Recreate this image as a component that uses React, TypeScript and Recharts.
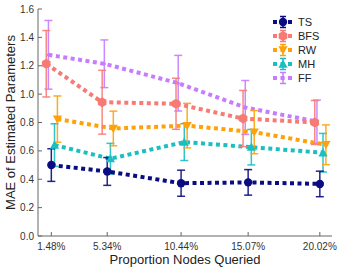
import { LineChart, Line, XAxis, YAxis, ErrorBar } from "recharts";

const proportions = [1.48, 5.34, 10.44, 15.07, 20.02];
const proportionLabels = ["1.48%", "5.34%", "10.44%", "15.07%", "20.02%"];
const yTicks = [0, 0.2, 0.4, 0.6, 0.8, 1.0, 1.2, 1.4, 1.6];

const tsMae = [0.5, 0.455, 0.372, 0.378, 0.367];
const tsErr = [0.115, 0.098, 0.092, 0.09, 0.09];
const bfsMae = [1.214, 0.943, 0.932, 0.828, 0.8];
const bfsErr = [0.234, 0.225, 0.18, 0.198, 0.155];
const rwMae = [0.824, 0.758, 0.778, 0.732, 0.643];
const rwErr = [0.163, 0.122, 0.157, 0.152, 0.14];
const mhMae = [0.641, 0.545, 0.662, 0.626, 0.587];
const mhErr = [0.15, 0.108, 0.13, 0.125, 0.136];
const ffMae = [1.277, 1.214, 1.077, 0.906, 0.806];
const ffErr = [0.242, 0.168, 0.196, 0.19, 0.152];

// small horizontal shift per method so the bars don't overlap
const jitter = { TS: 0, BFS: -0.35, RW: 0.42, MH: 0.22, FF: -0.2 };

const FONT = "'Liberation Sans', Arial, sans-serif";

type Marker = "circle" | "hexagon" | "down" | "up" | "dot";

const series: { name: keyof typeof jitter; color: string; mae: number[]; err: number[]; marker: Marker }[] = [
  { name: "TS", color: "#0c0c82", mae: tsMae, err: tsErr, marker: "circle" },
  { name: "BFS", color: "#f77b75", mae: bfsMae, err: bfsErr, marker: "hexagon" },
  { name: "RW", color: "#ffa20a", mae: rwMae, err: rwErr, marker: "down" },
  { name: "MH", color: "#1bbfc2", mae: mhMae, err: mhErr, marker: "up" },
  { name: "FF", color: "#c77cff", mae: ffMae, err: ffErr, marker: "dot" },
];

const drawOrder = ["FF", "MH", "RW", "BFS", "TS"];

function MarkerShape({ cx, cy, marker, color }: { cx: number; cy: number; marker: Marker; color: string }) {
  if (marker === "circle") return <circle cx={cx} cy={cy} r={4.2} fill={color} />;
  if (marker === "dot") return <circle cx={cx} cy={cy} r={1.6} fill={color} />;
  if (marker === "hexagon") {
    const r = 5;
    const pts = [0, 1, 2, 3, 4, 5]
      .map((i) => {
        const a = (Math.PI / 3) * i - Math.PI / 2;
        return `${cx + r * Math.cos(a)},${cy + r * Math.sin(a)}`;
      })
      .join(" ");
    return <polygon points={pts} fill={color} />;
  }
  const s = 4.6;
  if (marker === "down")
    return <polygon points={`${cx - s},${cy - s * 0.8} ${cx + s},${cy - s * 0.8} ${cx},${cy + s}`} fill={color} />;
  return <polygon points={`${cx - s},${cy + s * 0.8} ${cx + s},${cy + s * 0.8} ${cx},${cy - s}`} fill={color} />;
}

function BottomTick(props: any) {
  const { x, y, payload } = props;
  const i = proportions.indexOf(payload.value);
  return (
    <g>
      <line x1={x} x2={x} y1={y} y2={y - 4} stroke="#666" strokeWidth={1} />
      <text x={x} y={y + 14} textAnchor="middle" fontSize={10} fill="#333" fontFamily={FONT}>
        {proportionLabels[i]}
      </text>
    </g>
  );
}

function LeftTick(props: any) {
  const { x, y, payload } = props;
  return (
    <g>
      <line x1={x} x2={x + 4} y1={y} y2={y} stroke="#666" strokeWidth={1} />
      <text x={x - 4} y={y + 3.5} textAnchor="end" fontSize={10} fill="#333" fontFamily={FONT}>
        {payload.value.toFixed(1)}
      </text>
    </g>
  );
}

function LegendBox() {
  return (
    <div style={{ position: "absolute", left: 272, top: 15, fontFamily: FONT, fontSize: 11, color: "#222" }}>
      {series.map((s) => (
        <div key={s.name} style={{ display: "flex", alignItems: "center", height: 14 }}>
          <svg width={22} height={14} style={{ marginRight: 4 }}>
            <line x1={1} x2={21} y1={7} y2={7} stroke={s.color} strokeWidth={4} strokeDasharray="4 3.5" />
            <line x1={11} x2={11} y1={1.5} y2={12.5} stroke={s.color} strokeWidth={1.5} />
            <line x1={8} x2={14} y1={1.5} y2={1.5} stroke={s.color} strokeWidth={1.5} />
            <line x1={8} x2={14} y1={12.5} y2={12.5} stroke={s.color} strokeWidth={1.5} />
            <MarkerShape cx={11} cy={7} marker={s.marker} color={s.color} />
          </svg>
          <span>{s.name}</span>
        </div>
      ))}
    </div>
  );
}

export default function App() {
  const ordered = drawOrder.map((n) => series.find((s) => s.name === n)!);
  return (
    <div style={{ position: "absolute", left: 0, top: 0, width: 341, height: 271, background: "#fff" }}>
      <LineChart width={341} height={271} margin={{ top: 9, right: 9, bottom: 0, left: 0 }}>
        <XAxis
          type="number"
          dataKey="x"
          domain={[0.56, 20.86]}
          ticks={proportions}
          tick={<BottomTick />}
          tickLine={false}
          tickSize={0}
          tickMargin={0}
          height={35}
          axisLine={{ stroke: "#666" }}
          allowDataOverflow
          label={{
            value: "Proportion Nodes Queried",
            position: "insideBottom",
            offset: 7,
            style: { fontFamily: FONT, fontSize: 13, fill: "#222" },
          }}
        />
        <XAxis
          xAxisId="top"
          orientation="top"
          type="number"
          domain={[0.56, 20.86]}
          ticks={proportions}
          tick={false}
          mirror
          tickSize={4}
          height={0}
          stroke="#666"
          allowDataOverflow
        />
        <YAxis
          type="number"
          domain={[0, 1.6]}
          ticks={yTicks}
          tick={<LeftTick />}
          tickLine={false}
          tickSize={0}
          tickMargin={0}
          width={38}
          axisLine={{ stroke: "#666" }}
          allowDataOverflow
          label={{
            value: "MAE of Estimated Parameters",
            angle: -90,
            position: "insideLeft",
            offset: 10,
            style: { textAnchor: "middle", fontFamily: FONT, fontSize: 13, fill: "#222" },
          }}
        />
        <YAxis
          yAxisId="right"
          orientation="right"
          type="number"
          domain={[0, 1.6]}
          ticks={yTicks}
          tick={false}
          mirror
          tickSize={4}
          width={0}
          stroke="#666"
          allowDataOverflow
        />
        {ordered.map((s) => (
          <Line
            key={s.name}
            name={s.name}
            data={proportions.map((p, i) => ({ x: p + jitter[s.name], y: s.mae[i], err: s.err[i] }))}
            dataKey="y"
            stroke={s.color}
            strokeWidth={4}
            strokeDasharray="4 3.5"
            isAnimationActive={false}
            dot={(p: any) => <MarkerShape key={`${s.name}-${p.index}`} cx={p.cx} cy={p.cy} marker={s.marker} color={s.color} />}
            activeDot={false}
          >
            <ErrorBar dataKey="err" direction="y" width={4} stroke={s.color} strokeWidth={1.5} strokeOpacity={0.9} isAnimationActive={false} />
          </Line>
        ))}
      </LineChart>
      <LegendBox />
    </div>
  );
}
